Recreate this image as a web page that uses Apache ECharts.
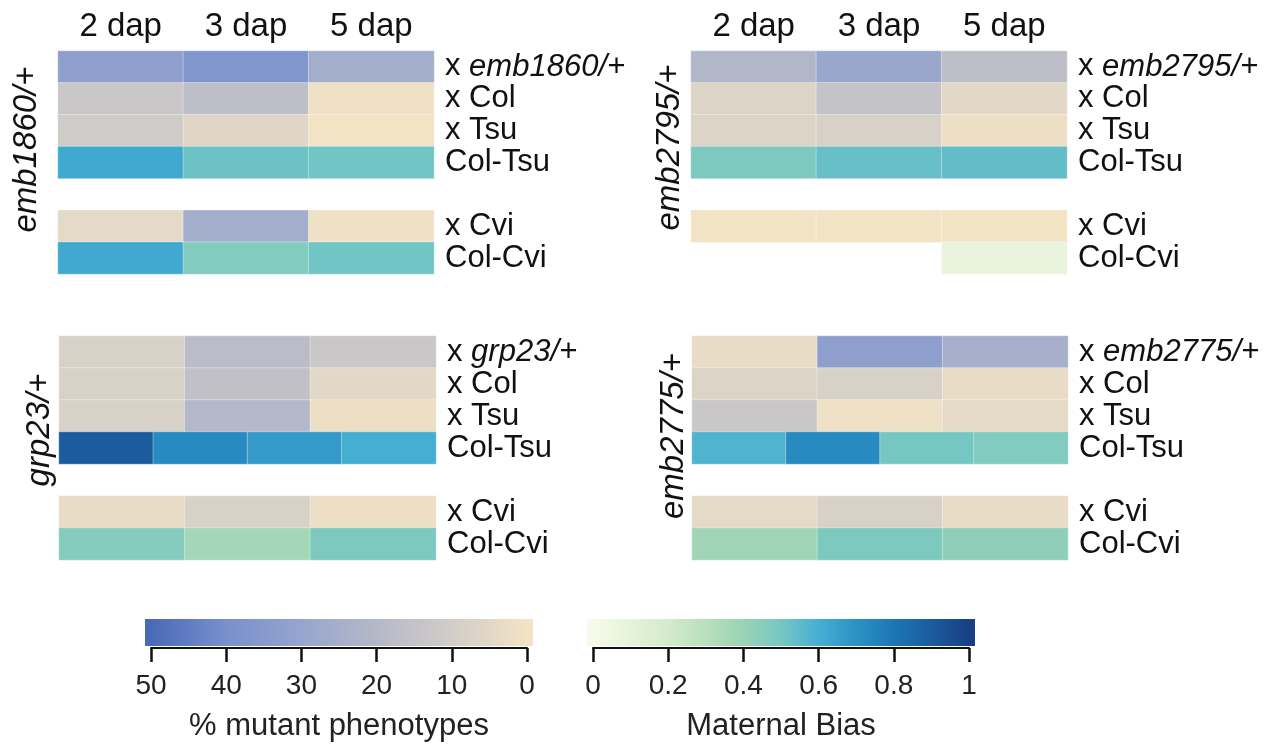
<!DOCTYPE html>
<html>
<head>
<meta charset="utf-8">
<script src="https://cdn.jsdelivr.net/npm/echarts@6/dist/echarts.min.js"></script>
<style>
html, body { margin: 0; padding: 0; background: #fff; }
#chart { width: 1271px; height: 746px; }
</style>
</head>
<body>
<div id="chart"></div>
<script>
// columns and rows
const days = ['2 dap', '3 dap', '5 dap'];
const tsuParts = ['t1', 't2', 't3', 't4'];
const mutants = ['emb1860/+', 'emb2795/+', 'grp23/+', 'emb2775/+'];
const crosses = ['x Col', 'x Tsu', 'Col-Tsu', ' ', 'x Cvi', 'Col-Cvi'];

// % mutant phenotypes, rows: x self, x Col, x Tsu, x Cvi
const pctEmb1860 = [[33, 37, 26], [13, 17, 1], [11, 6, 0], [4, 26, 1]];
const pctEmb2795 = [[21, 29, 17], [7, 15, 5], [7, 8, 2], [0, 0, 0]];
const pctGrp23 = [[8, 18, 13], [8, 16, 5], [8, 20, 2], [3, 8, 2]];
const pctEmb2775 = [[3, 33, 25], [7, 8, 3], [13, 1, 4], [4, 8, 3]];

// maternal bias, Col-Tsu and Col-Cvi
const tsuEmb1860 = [0.62, 0.52, 0.51];
const cviEmb1860 = [0.62, 0.47, 0.51];
const tsuEmb2795 = [0.48, 0.53, 0.54];
const cviEmb2795 = [null, null, 0.08];
const tsuGrp23 = [0.9, 0.73, 0.67, 0.6];
const cviGrp23 = [0.46, 0.37, 0.48];
const tsuEmb2775 = [0.58, 0.73, 0.5, 0.47];
const cviEmb2775 = [0.38, 0.48, 0.43];

// colour bars
const pctTicks = [0, 10, 20, 30, 40, 50];
const biasTicks = [0, 0.2, 0.4, 0.6, 0.8, 1];
const pctColors = ['#F2E3C5', '#D2CDC8', '#B5B8C8', '#97A5CE', '#7890CC', '#4A6AB8'];
const biasColors = ['#F7FAEA', '#E6F3DB', '#D3EBCB', '#B8E0BC', '#9AD3B6', '#76C7C3',
    '#47AED3', '#2B92C5', '#1D76B4', '#1B5C9E', '#193F85'];

const font = "'Liberation Sans', Arial, sans-serif";
const ink = '#111';

const panels = [
    { mutant: mutants[0], pct: pctEmb1860, tsu: tsuEmb1860, cvi: cviEmb1860 },
    { mutant: mutants[1], pct: pctEmb2795, tsu: tsuEmb2795, cvi: cviEmb2795 },
    { mutant: mutants[2], pct: pctGrp23, tsu: tsuGrp23, cvi: cviGrp23 },
    { mutant: mutants[3], pct: pctEmb2775, tsu: tsuEmb2775, cvi: cviEmb2775 }
];
const boxes = [
    { left: 58, top: 51, width: 376, height: 223, header: true, gap: 15, pad: 26 },
    { left: 691, top: 51, width: 376, height: 223, header: true, gap: 5, pad: 30 },
    { left: 59, top: 336, width: 377, height: 224, header: false, gap: 3, pad: 36 },
    { left: 692, top: 336, width: 376, height: 224, header: false, gap: 2, pad: 24 }
];
const pctRowIdx = [0, 1, 2, 5];

const grid = [], xAxis = [], yAxis = [], series = [];
const pctSeries = [], biasSeries = [];
const cell = { borderColor: 'rgba(255,255,255,0.35)', borderWidth: 1 };

panels.forEach((p, i) => {
    const box = boxes[i];
    const rows = ['x ' + p.mutant].concat(crosses);
    grid.push({ left: box.left, top: box.top, width: box.width, height: box.height, outerBoundsMode: 'none' });
    xAxis.push({
        gridIndex: i, type: 'category', data: days, position: 'top',
        axisLine: { show: false }, axisTick: { show: false }, splitLine: { show: false },
        axisLabel: { show: box.header, interval: 0, fontSize: 33, color: ink, fontFamily: font, margin: 8 }
    });
    xAxis.push({ gridIndex: i, type: 'category', data: tsuParts, show: false });
    yAxis.push({
        gridIndex: i, type: 'category', data: rows, inverse: true, position: 'right',
        axisLine: { show: false }, axisTick: { show: false }, splitLine: { show: false },
        axisLabel: {
            interval: 0, fontSize: 31, color: ink, fontFamily: font, margin: 11,
            formatter: (v) => v.indexOf(p.mutant) > 0 ? 'x {i|' + p.mutant + '}' : v,
            rich: { i: { fontStyle: 'italic', fontSize: 31, color: ink, fontFamily: font } }
        }
    });
    yAxis.push({
        gridIndex: i, type: 'value', position: 'left',
        axisLine: { show: false }, axisTick: { show: false }, axisLabel: { show: false }, splitLine: { show: false },
        name: p.mutant, nameLocation: 'middle', nameRotate: 90, nameGap: box.gap,
        nameTextStyle: { fontStyle: 'italic', fontSize: 33, color: ink, fontFamily: font, padding: [0, 0, 0, box.pad] }
    });

    const pctData = [];
    p.pct.forEach((vals, r) => vals.forEach((v, c) => pctData.push([c, pctRowIdx[r], v])));
    pctSeries.push(series.length);
    series.push({ type: 'heatmap', xAxisIndex: 2 * i, yAxisIndex: 2 * i, data: pctData, itemStyle: cell, emphasis: { disabled: true } });

    const biasData = [];
    p.cvi.forEach((v, c) => { if (v !== null) biasData.push([c, 6, v]); });
    if (p.tsu.length === 3) p.tsu.forEach((v, c) => biasData.push([c, 3, v]));
    biasSeries.push(series.length);
    series.push({ type: 'heatmap', xAxisIndex: 2 * i, yAxisIndex: 2 * i, data: biasData, itemStyle: cell, emphasis: { disabled: true } });
    if (p.tsu.length === 4) {
        biasSeries.push(series.length);
        series.push({
            type: 'heatmap', xAxisIndex: 2 * i + 1, yAxisIndex: 2 * i,
            data: p.tsu.map((v, c) => [c, 3, v]), itemStyle: cell, emphasis: { disabled: true }
        });
    }
});

// colour bar drawn on its own axis
function colorbar(colors, lo, hi) {
    return function (params, api) {
        const cs = params.coordSys;
        const a = api.coord([lo, 0])[0], b = api.coord([hi, 0])[0];
        const x0 = Math.min(a, b) - 6, x1 = Math.max(a, b) + 6;
        const stops = colors.map((c, k) => {
            const px = api.coord([lo + (hi - lo) * k / (colors.length - 1), 0])[0];
            return { offset: (px - x0) / (x1 - x0), color: c };
        }).sort((s, t) => s.offset - t.offset);
        return {
            type: 'rect', silent: true,
            shape: { x: x0, y: cs.y, width: x1 - x0, height: cs.height - 2 },
            style: { fill: new echarts.graphic.LinearGradient(0, 0, 1, 0, stops) }
        };
    };
}

const bars = [
    { ticks: pctTicks, colors: pctColors, name: '% mutant phenotypes', inverse: true, left: 151 },
    { ticks: biasTicks, colors: biasColors, name: 'Maternal Bias', inverse: false, left: 593 }
];
bars.forEach((b, k) => {
    const gi = 4 + k;
    const lo = b.ticks[0], hi = b.ticks[b.ticks.length - 1];
    grid.push({ left: b.left, top: 619, width: 376, height: 29, outerBoundsMode: 'none' });
    xAxis.push({
        gridIndex: gi, type: 'value', min: lo, max: hi, interval: b.ticks[1] - b.ticks[0], inverse: b.inverse,
        position: 'bottom', splitLine: { show: false },
        axisLine: { show: true, lineStyle: { color: ink, width: 2 } },
        axisTick: { show: true, length: 14, lineStyle: { color: ink, width: 2.5 } },
        axisLabel: { fontSize: 28, color: '#222', fontFamily: font, margin: 24 },
        name: b.name, nameLocation: 'middle', nameGap: 63,
        nameTextStyle: { fontSize: 31, color: '#222', fontFamily: font }
    });
    yAxis.push({ gridIndex: gi, type: 'category', data: ['bar'], show: false });
    series.push({
        type: 'custom', xAxisIndex: 8 + k, yAxisIndex: 8 + k, data: [[lo, 0]],
        renderItem: colorbar(b.colors, lo, hi), silent: true
    });
});

const chart = echarts.init(document.getElementById('chart'));
chart.setOption({
    backgroundColor: '#fff',
    animation: false,
    grid: grid,
    xAxis: xAxis,
    yAxis: yAxis,
    visualMap: [
        { type: 'continuous', show: false, min: pctTicks[0], max: pctTicks[pctTicks.length - 1], seriesIndex: pctSeries, inRange: { color: pctColors } },
        { type: 'continuous', show: false, min: biasTicks[0], max: biasTicks[biasTicks.length - 1], seriesIndex: biasSeries, inRange: { color: biasColors } }
    ],
    series: series
});
</script>
</body>
</html>
